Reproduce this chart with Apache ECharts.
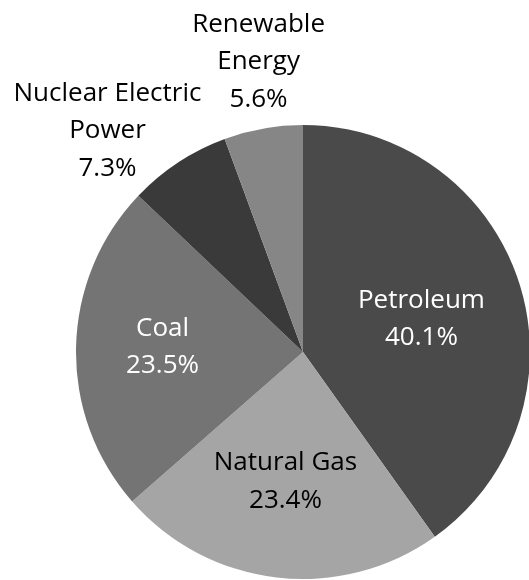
<!DOCTYPE html>
<html>
<head>
<meta charset="utf-8">
<script src="https://cdn.jsdelivr.net/npm/echarts@6/dist/echarts.min.js"></script>
<style>html,body{margin:0;padding:0;background:#fff;}#c{width:529px;height:580px;}</style>
</head>
<body>
<div id="c"></div>
<script>
const categories = ['Petroleum', 'Natural Gas', 'Coal', 'Nuclear Electric\nPower', 'Renewable\nEnergy'];
const values = [40.1, 23.4, 23.5, 7.3, 5.6];
const colors = ['#4a4a4a', '#a5a5a5', '#747474', '#3a3a3a', '#868686'];
const labelColors = ['#ffffff', '#000000', '#ffffff', '#000000', '#000000'];
const labelOffsets = [[7.5, 2.5], [-4, 14], [-24, -2.5], [-131.5, -124], [-24, -175.5]];

const data = categories.map((c, i) => ({
  name: c,
  value: values[i],
  itemStyle: { color: colors[i] },
  label: { color: labelColors[i], offset: labelOffsets[i] }
}));

const chart = echarts.init(document.getElementById('c'), null, { renderer: 'canvas' });
chart.setOption({
  animation: false,
  series: [{
    type: 'pie',
    center: [303, 352],
    radius: [0, 227],
    startAngle: 90,
    clockwise: true,
    avoidLabelOverlap: false,
    itemStyle: { borderWidth: 0 },
    labelLayout: { hideOverlap: false },
    label: {
      show: true,
      position: 'inside',
      fontFamily: 'Open Sans',
      fontSize: 26,
      lineHeight: 37.5,
      align: 'center',
      formatter: p => p.name + '\n' + p.value.toFixed(1) + '%'
    },
    labelLine: { show: false },
    data: data
  }]
});
</script>
</body>
</html>
